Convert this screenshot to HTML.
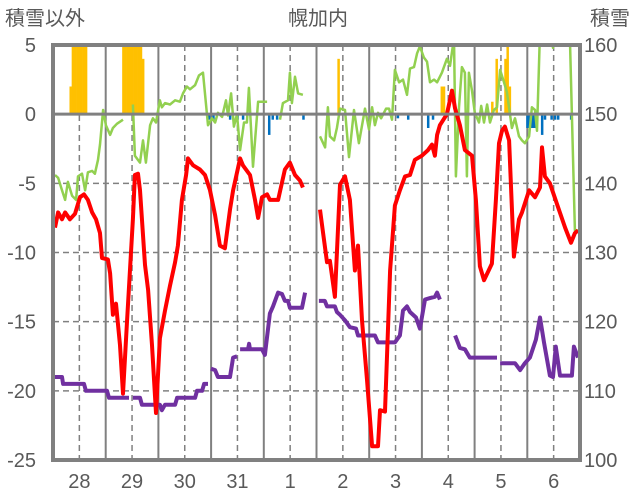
<!DOCTYPE html>
<html><head><meta charset="utf-8">
<style>
html,body{margin:0;padding:0;background:#fff;}
svg{display:block;font-family:"Liberation Sans","Noto Sans CJK JP",sans-serif;}
</style></head>
<body>
<svg id="chart" width="636" height="501" viewBox="0 0 636 501" xmlns="http://www.w3.org/2000/svg">
<text x="5" y="25" font-size="20" fill="#595959">積雪以外</text>
<text x="318" y="25" font-size="20" fill="#595959" text-anchor="middle">幌加内</text>
<text x="590" y="25" font-size="20" fill="#595959">積雪</text>
<g id="grid"></g>
<defs><clipPath id="plotclip"><rect x="53" y="45" width="527" height="415"/></clipPath></defs>
<g id="bars" clip-path="url(#plotclip)"></g>
<g id="lines" clip-path="url(#plotclip)"></g>
<g id="frame"></g>
<g id="ticks"></g>
</svg>
<script>
const dayLabels = ["28","29","30","31","1","2","3","4","5","6"];
const leftTicks = [5,0,-5,-10,-15,-20,-25];
const rightTicks = [160,150,140,130,120,110,100];

const redHours = [0.9,2.3,4.1,5.5,7.7,10,12.3,14.1,15.9,17.8,19.6,21.4,22.3,25,26,27.3,28.7,30.5,31.9,33.7,36.4,37.3,38.7,39.6,41.9,43.3,45.1,46.9,48.7,51,53.3,55.6,56.9,58.7,60.6,61.5,63.8,66.9,69.2,71.5,73.8,76,78.3,80.6,82,85.2,86.5,89.7,92,93.4,95.2,97.5,98.8,102.5,105.6,107.9,110.2,112.5,113.8,115,121.6,123,124.8,126.1,128.4,130.7,133,135.2,137.5,138.9,140.7,143,145.3,148,148.9,151.2,153.5,155.7,158,160.3,162.6,164.8,168,170.8,172.6,173.9,174.9,176.2,179.4,181.7,183.1,185.3,187.6,190.8,192.6,194.4,196.3,198.1,199.9,201.7,203.1,204.5,205.8,207.7,209,209.9,212.2,213.6,216.8,219.5,221.8,222.7,224,226.3,230.4,233.2,235.9,237.7,239.1];
const redValues = [-8.2,-7.1,-7.6,-7.1,-7.6,-7.2,-6,-5.8,-6.2,-7.1,-7.6,-8.6,-10.4,-10.5,-11.5,-14.5,-13.7,-16.7,-20.2,-15,-7.6,-4.4,-4.3,-5.5,-10.9,-12.7,-16.7,-21.6,-16.2,-14.2,-12.4,-10.7,-9.5,-6.2,-4.4,-3.2,-3.7,-4,-4.4,-5.5,-7.3,-9.5,-9.7,-6.9,-5.5,-3.2,-3.7,-4.4,-6.2,-7.5,-6,-5.8,-6.2,-6.2,-4,-3.5,-4.4,-4.8,-5.3,null,-6.9,-8.6,-10.7,-10.6,-13.2,-5.1,-4.5,-6.2,-11.3,-9.5,-14.9,-19.2,-24,-24,-21.4,-21.5,-11.3,-6.6,-5.5,-4.5,-4.4,-3.3,-3,-2.6,-2.2,-3,-1.5,-0.8,0,1.7,0.4,-0.8,-2.6,-3,-6.2,-11,-12,-11.4,-10.8,-6.2,-2.1,-1.2,-0.9,-1.9,-6.8,-10.3,-7.6,-7.1,-5.5,-6,-5.3,-2.4,-4.5,-5,-6.9,-8.2,-9.3,-8.6,-8.4];

const purpleHours = [0,4.1,4.6,14.1,15,24.6,25.5,34.6,35.5,36.4,39.6,40.5,48.7,49.6,51,55.6,56.5,64.7,65.6,67.9,68.8,70.6,71.2,71.9,73.8,75.1,80.6,82,83.8,84.5,85.2,88.8,89.3,89.7,95.2,96.5,98.8,100.2,102.5,104.3,105.6,107,107.9,113.4,114.8,118,121.1,123.8,124.8,128.4,129.3,130.7,133,135.2,138,138.9,146.6,148,155.7,158,159.4,161.2,162.6,165.3,167.1,169.4,171.7,173.9,174.9,176.2,180,183.1,185.3,187.6,189.8,202.2,203,203.6,210.4,212.7,214.9,217.2,219.9,221.8,223.6,226.3,227.7,229,230.9,236.3,237.2,239.1];
const purpleValues = [-19,-19,-19.5,-19.5,-20,-20,-20.5,-20.5,null,-20.5,-20.5,-21,-21,-21.4,-21,-21,-20.5,-20.5,-20,-20,-19.5,-19.5,null,-18.4,-18.5,-19,-19,-17.6,-17.5,null,-17,-17,-16.6,-17,-17,-17.4,-14.4,-13.9,-12.9,-13,-13.5,-13.5,-14,-14,-12.9,null,-13.5,-13.5,-13.9,-13.9,-14.3,-14.5,-14.9,-15.4,-15.5,-16,-16,-16.5,-16.5,-16,-14.2,-13.9,-14.3,-14.7,-15.5,-13.4,-13.3,-13.2,-12.9,-13.4,null,-16,-16.9,-17,-17.6,-17.6,null,-18,-18,-18.5,-18,-17.6,-16.3,-14.7,-16.5,-18.9,-19,-16.8,-18.9,-18.9,-16.8,-17.6];

const greenHours = [0.9,2.3,4.1,5.5,6.8,8.7,10.5,11.4,13.2,14.6,15.9,17.8,19.1,20.5,21.4,22.8,24.1,26,27.3,29.1,31.9,33,36.4,37.3,39.6,41,42.3,44.2,45.5,46.9,48.7,49.6,51,53.3,55.6,57.8,59.2,61,62.4,64.7,66.5,68.3,70.6,72.4,73.8,75.1,77,78.8,79.7,81.1,82.4,83.8,85.2,87,88.3,89.2,91.1,93.4,97.5,100,103.4,104.7,107,107.9,108.8,110.2,111.6,113.8,116,121.6,123.9,125.2,126.1,128,129.3,130.7,133,134.8,137.1,139.3,142.1,143.9,145.3,146.6,148,149.4,151.7,153,154.4,155.7,157.6,159.4,161.2,162.6,164.4,165.8,167.1,168.9,170.3,171.7,173.5,174.9,177.1,179.4,180.8,182.6,183.5,184.9,186.2,187.6,188.5,189.4,190.8,192.1,194,195,196.3,197.7,199,200.8,202.2,203.6,205.4,206.7,209,210.4,212.2,213.6,214.9,216.8,218.1,219.5,220.4,221.8,224,226.8,227.7,228.6,233.6,235.4,237.7,239.5];
const greenValues = [-4.4,-4.6,-5.5,-6.2,-4.9,-5.9,-6.2,-4.5,-4.3,-5.5,-4.2,-4.1,-4.3,-3.3,-2.2,0.3,-0.8,-1.5,-1,-0.7,-0.4,null,0.7,-3,-3.5,-1.9,-3.5,-0.8,-0.3,-0.6,1,0.5,0.8,0.7,1,0.9,1.5,2,1.8,2.1,2.8,3,-0.8,-0.3,-0.6,0.1,-0.2,1,-0.1,1.5,-0.9,0,-2.6,-0.6,-0.6,1.9,-3.8,0.9,0.9,null,-0.4,0.8,1,3,0.8,2.7,1.5,1.4,null,-1.6,-2.4,0.5,-1.6,-1.9,-1,0.4,0.3,-3.1,0.3,-2.1,0.4,-1.1,0.5,-0.8,0.1,-0.3,0.4,0.4,-0.4,3.2,2.3,2.5,1.4,3.3,3.4,4.4,4.9,4.1,3.8,2.3,2.5,2.3,3,4,3.5,5.5,-4.5,0.5,3.4,3,-4.5,3,1.7,0.1,-0.6,0.6,-0.6,0.7,-0.6,0.3,0.5,3.2,2.3,1.6,-1,-0.3,-1.6,-1.9,-2.1,-1.6,0.5,0.3,-1.2,6,8,6,4.8,6,8,5.5,-8.4,-8.4];

const snowHours = [8,9,10,11,12,13,14,15,32,33,34,35,36,37,38,39,40,41,130,177,178,200,202,206,207,208];
const snowValues = [2,6,6,6,6,6,6,6,6,6,6,6,6,6,6,6,6,4,4,2,2,0.9,4,4,6,2];
const blueHours = [71,73,80.6,84,86.5,98.4,100,102,114,157,161.7,170.8,173,216,217,218,219,220,222.7,224,227,228.6,230,235.9];
const blueValues = [-0.4,-0.4,-0.4,-0.4,-0.4,-1.5,-0.4,-0.4,-0.4,-0.3,-0.4,-1,-0.4,-1,-1,-1,-1,-1,-1.5,-0.4,-0.4,-0.4,-0.4,-0.4];

const X0=53, X1=580, Y0=45, Y1=460, H=240;
function xs(h){return X0+(X1-X0)*h/H;}
function ys(v){return Y0+(5-v)*(Y1-Y0)/30;}
function ysR(v){return ys((v-150)/2);}
const NS="http://www.w3.org/2000/svg";
function mk(tag,attrs,parent){const e=document.createElementNS(NS,tag);for(const k in attrs)e.setAttribute(k,attrs[k]);parent.appendChild(e);return e;}
const grid=document.getElementById('grid'), bars=document.getElementById('bars'), lines=document.getElementById('lines'), frame=document.getElementById('frame'), ticks=document.getElementById('ticks');

leftTicks.forEach((t,i)=>{
  const y=ys(t);
  if(t<0 && t>-25){
    const g=mk('line',{x1:X0,x2:X1,y1:y,y2:y,stroke:'#808080','stroke-width':1.5,'stroke-dasharray':'6,4'},grid);
    
    
  }
  const tl=mk('text',{x:36,y:y+7,'font-size':20,fill:'#595959','text-anchor':'end'},ticks);
  tl.textContent=String(t);
  
  
});
rightTicks.forEach((t)=>{
  const tr=mk('text',{x:584,y:ysR(t)+7,'font-size':20,fill:'#595959'},ticks);
  tr.textContent=String(t);
  
  
});
dayLabels.forEach((d,i)=>{
  const xm=xs(i*24+12);
  const dl=mk('line',{x1:xm,x2:xm,y1:Y0,y2:Y1,stroke:'#808080','stroke-width':1.5,'stroke-dasharray':'6,4'},grid);
  
  
  if(i>0){
    const xb=xs(i*24);
    const sl=mk('line',{x1:xb,x2:xb,y1:Y0,y2:Y1,stroke:'#808080','stroke-width':2},grid);
    
    
  }
  const lb=mk('text',{x:xm,y:488,'font-size':20,fill:'#595959','text-anchor':'middle'},ticks);
  lb.textContent=d;
  
  
});

const bw=(X1-X0)/H;
snowHours.forEach((h,i)=>{
  const y=ys(snowValues[i]);
  const r=mk('rect',{x:xs(h)-bw/2,y:y,width:bw+0.3,height:ys(0)-y,fill:'#FFC000'},bars);
  
  
});
blueHours.forEach((h,i)=>{
  const y=ys(blueValues[i]);
  const r=mk('rect',{x:xs(h)-bw/2,y:ys(0),width:bw+0.3,height:y-ys(0),fill:'#0070C0'},bars);
  
  
});

function pathD(hs,vs){let d='',pen=false;hs.forEach((h,i)=>{const v=vs[i];if(v===null){pen=false;return;}d+=(pen?'L':'M')+xs(h).toFixed(1)+' '+ys(v).toFixed(1)+' ';pen=true;});return d;}
const pg=mk('path',{d:pathD(greenHours,greenValues),fill:'none',stroke:'#92D050','stroke-width':2.5,'stroke-linejoin':'round'},lines);


const pp=mk('path',{d:pathD(purpleHours,purpleValues),fill:'none',stroke:'#7030A0','stroke-width':4,'stroke-linejoin':'round'},lines);


const pr=mk('path',{d:pathD(redHours,redValues),fill:'none',stroke:'#FF0000','stroke-width':4,'stroke-linejoin':'round'},lines);



const zl=mk('line',{x1:X0,x2:X1,y1:ys(0),y2:ys(0),stroke:'#808080','stroke-width':3},frame);


const fr=mk('rect',{x:X0,y:Y0,width:X1-X0,height:Y1-Y0,fill:'none',stroke:'#808080','stroke-width':4},frame);


</script>
</body></html>
